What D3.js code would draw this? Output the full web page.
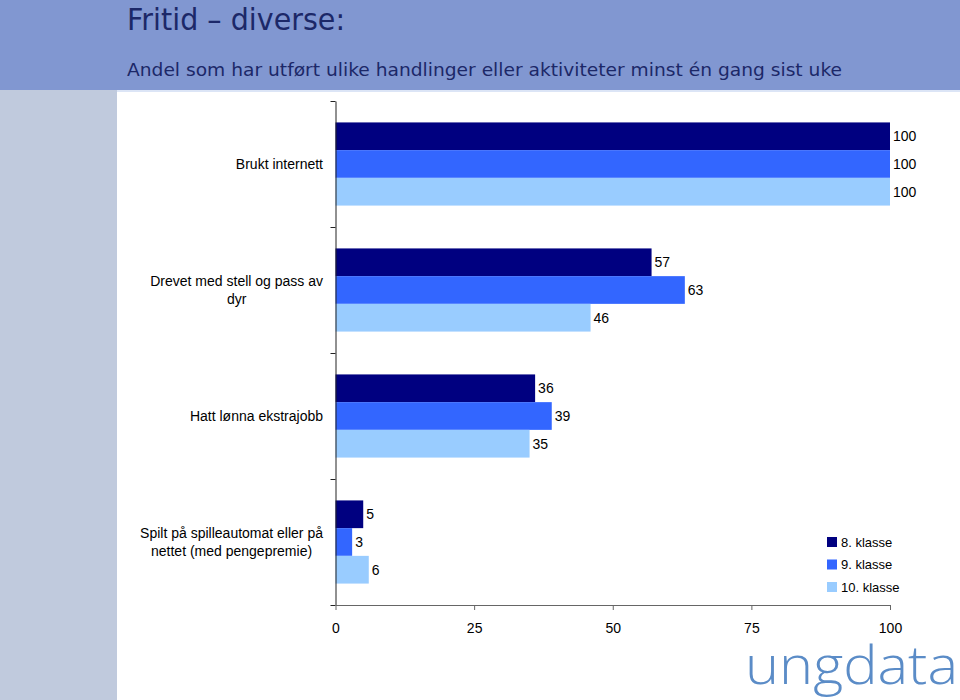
<!DOCTYPE html>
<html>
<head>
<meta charset="utf-8">
<script src="https://cdn.jsdelivr.net/npm/d3@7/dist/d3.min.js"></script>
<style>
  html, body { margin: 0; padding: 0; background: #fff; }
  svg { display: block; }
</style>
</head>
<body>
<svg id="chart" width="960" height="700"></svg>
<script>
// ---- data ----
const title = "Fritid \u2013 diverse:";
const subtitle = "Andel som har utført ulike handlinger eller aktiviteter minst én gang sist uke";
const categories = [
  ["Brukt internett"],
  ["Drevet med stell og pass av", "dyr"],
  ["Hatt lønna ekstrajobb"],
  ["Spilt på spilleautomat eller på", "nettet (med pengepremie)"]
];
const series = ["8. klasse", "9. klasse", "10. klasse"];
const values8 = [100, 57, 36, 5];
const values9 = [100, 63, 39, 3];
const values10 = [100, 46, 35, 6];
const xTicks = [0, 25, 50, 75, 100];
const colors = ["#000080", "#3366FF", "#99CCFF"];
const logoText = "ungdata";

// ---- build ----
const svg = d3.select("#chart");
const W = 960, H = 700;

svg.append("rect").attr("x", 0).attr("y", 0).attr("width", W).attr("height", H).attr("fill", "#fff");
// header band
svg.append("rect").attr("x", 0).attr("y", 0).attr("width", W).attr("height", 90).attr("fill", "#8197D1");
svg.append("rect").attr("x", 117).attr("y", 90).attr("width", W - 117).attr("height", 2).attr("fill", "#DCE5F6");
// left strip
svg.append("rect").attr("x", 0).attr("y", 90).attr("width", 117).attr("height", H - 90).attr("fill", "#C0CADD");

svg.append("text").attr("x", 127).attr("y", 30)
  .attr("font-family", "DejaVu Sans, Verdana, sans-serif").attr("font-size", 30)
  .attr("fill", "#1C2868").attr("textLength", 218).attr("lengthAdjust", "spacingAndGlyphs")
  .text(title);
svg.append("text").attr("x", 127).attr("y", 76)
  .attr("font-family", "DejaVu Sans, Verdana, sans-serif").attr("font-size", 18.5)
  .attr("fill", "#1C2868").attr("textLength", 715).attr("lengthAdjust", "spacingAndGlyphs")
  .text(subtitle);

const catKeys = categories.map(c => c.join(" "));
const x = d3.scaleLinear().domain([0, 100]).range([335.5, 890]);
const y0 = d3.scaleBand().domain(catKeys).range([101, 605]).paddingInner(0.34).paddingOuter(0.17);
const y1 = d3.scaleBand().domain(series).range([0, y0.bandwidth()]);
const yAxisScale = d3.scaleLinear().domain([0, catKeys.length]).range([101, 605]);

const allValues = [values8, values9, values10];
const rows = [];
catKeys.forEach((c, i) => series.forEach((s, j) => rows.push({ cat: c, s, v: allValues[j][i], color: colors[j] })));

const g = svg.append("g");
g.selectAll("rect.bar").data(rows).enter().append("rect")
  .attr("class", "bar")
  .attr("x", x(0))
  .attr("y", d => y0(d.cat) + y1(d.s))
  .attr("width", d => x(d.v) - x(0))
  .attr("height", y1.bandwidth())
  .attr("fill", d => d.color);

g.selectAll("text.val").data(rows).enter().append("text")
  .attr("class", "val")
  .attr("x", d => x(d.v) + 3)
  .attr("y", d => y0(d.cat) + y1(d.s) + y1.bandwidth() / 2)
  .attr("dy", "0.35em")
  .attr("font-family", "Liberation Sans, Arial, sans-serif").attr("font-size", 14)
  .attr("fill", "#000")
  .text(d => d3.format("d")(d.v));

// y axis
const yAxis = svg.append("g").attr("transform", `translate(${x(0)},0)`)
  .call(d3.axisLeft(yAxisScale).tickValues(d3.range(catKeys.length + 1)).tickFormat("").tickSize(5).tickSizeOuter(0));
yAxis.select(".domain").attr("stroke", "#222");
yAxis.selectAll(".tick line").attr("stroke", "#222");

// x axis
const xAxis = svg.append("g").attr("transform", `translate(0,605)`)
  .call(d3.axisBottom(x).tickValues(xTicks).tickSize(5).tickSizeOuter(0).tickPadding(13));
xAxis.select(".domain").attr("stroke", "#666");
xAxis.selectAll(".tick line").attr("stroke", "#666");
xAxis.selectAll(".tick text").attr("font-family", "Liberation Sans, Arial, sans-serif").attr("font-size", 14).attr("fill", "#000");

// category labels
const lineH = 18;
categories.forEach((lines, i) => {
  const cy = y0(catKeys[i]) + y0.bandwidth() / 2;
  const grp = svg.append("g");
  const texts = lines.map((ln, k) => grp.append("text")
    .attr("y", cy + (k - (lines.length - 1) / 2) * lineH)
    .attr("dy", "0.35em")
    .attr("font-family", "Liberation Sans, Arial, sans-serif").attr("font-size", 14)
    .attr("fill", "#000").attr("text-anchor", "middle")
    .text(ln));
  const widths = texts.map(t => t.node().getComputedTextLength());
  const maxW = d3.max(widths);
  const center = 323 - maxW / 2;
  texts.forEach(t => t.attr("x", center));
});

// legend
const legend = svg.append("g");
series.forEach((s, j) => {
  const ly = 542 + j * 22.5;
  legend.append("rect").attr("x", 827).attr("y", ly - 5).attr("width", 10).attr("height", 10).attr("fill", colors[j]);
  legend.append("text").attr("x", 841).attr("y", ly).attr("dy", "0.35em")
    .attr("font-family", "Liberation Sans, Arial, sans-serif").attr("font-size", 13).attr("fill", "#000")
    .text(s);
});

// logo
svg.append("text").attr("x", 745).attr("y", 684)
  .attr("font-family", "Open Sans, Lato, sans-serif").attr("font-weight", 300).attr("font-size", 54)
  .attr("fill", "#5B8CC7").attr("textLength", 213).attr("lengthAdjust", "spacingAndGlyphs")
  .text(logoText);
</script>
</body>
</html>
